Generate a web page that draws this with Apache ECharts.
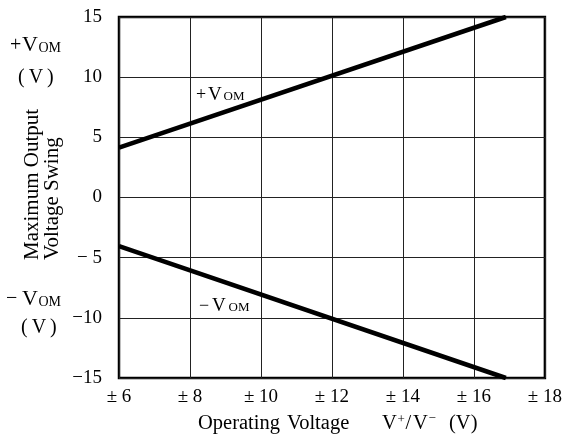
<!DOCTYPE html>
<html><head><meta charset="utf-8">
<script src="https://cdn.jsdelivr.net/npm/echarts@6/dist/echarts.min.js"></script>
<style>html,body{margin:0;padding:0;background:#fff}#c{width:565px;height:445px}</style>
</head><body><div id="c"></div>
<script>
const xTickValues = [6, 8, 10, 12, 14, 16, 18];
const xTickLabels = ['± 6', '± 8', '± 10', '± 12', '± 14', '± 16', '± 18'];
const yTickValues = [-15, -10, -5, 0, 5, 10, 15];
const yTickLabels = ['−15', '−10', '− 5', '0', '5', '10', '15'];
const plusVoltage = [6, 16.9];
const plusSwing = [4.15, 15];
const minusVoltage = [6, 16.9];
const minusSwing = [-4.05, -15];

const F = 'Liberation Serif';
function t(x, y, text, size, extra) {
  return Object.assign({
    type: 'text', x: x, y: y, silent: true,
    style: Object.assign({ text: text, fontFamily: F, fontSize: size, fill: '#000',
      textAlign: 'left', textVerticalAlign: 'middle', verticalAlign: 'middle' }, extra || {})
  });
}
const chart = echarts.init(document.getElementById('c'));
chart.setOption({
  animation: false,
  backgroundColor: '#fff',
  grid: { left: 119, right: 16, top: 17, bottom: 67, show: true, borderColor: '#000', borderWidth: 2.5, backgroundColor: 'transparent' },
  xAxis: {
    type: 'value', min: 6, max: 18, interval: 2,
    axisLine: { show: false }, axisTick: { show: false },
    splitLine: { show: true, lineStyle: { color: '#222', width: 1 } },
    axisLabel: { margin: 10, color: '#000', fontFamily: F, fontSize: 19,
      formatter: v => xTickLabels[xTickValues.indexOf(v)] }
  },
  yAxis: {
    type: 'value', min: -15, max: 15, interval: 5,
    axisLine: { show: false }, axisTick: { show: false },
    splitLine: { show: true, lineStyle: { color: '#222', width: 1 } },
    axisLabel: { margin: 17, color: '#000', fontFamily: F, fontSize: 19,
      formatter: v => yTickLabels[yTickValues.indexOf(v)] }
  },
  series: [
    { type: 'line', symbol: 'none', data: plusVoltage.map((v, i) => [v, plusSwing[i]]),
      lineStyle: { color: '#000', width: 4.5 } },
    { type: 'line', symbol: 'none', data: minusVoltage.map((v, i) => [v, minusSwing[i]]),
      lineStyle: { color: '#000', width: 4.5 } }
  ],
  graphic: [
    // left +VOM (V)
    t(10, 46, '+', 20), t(22, 45, 'V', 22), t(38.5, 48.5, 'OM', 14),
    t(18, 78, '(\u2009V\u2009)', 20),
    // left -VOM (V)
    t(6, 299, '−', 20), t(22, 299.5, 'V', 22), t(38.5, 302.5, 'OM', 14),
    t(21, 328, '(\u2009V\u2009)', 20),
    // y title
    { type: 'text', x: 42, y: 260, rotation: Math.PI / 2, silent: true,
      style: { text: 'Maximum Output\nVoltage Swing', fontFamily: F, fontSize: 21, lineHeight: 20,
        fill: '#000', textAlign: 'left', textVerticalAlign: 'middle', verticalAlign: 'middle' } },
    // in-plot labels
    t(196, 95, '+', 18), t(208, 95, 'V', 19), t(223.5, 96.5, 'OM', 13),
    t(199, 306, '−', 18), t(212, 306.5, 'V', 19), t(228.5, 308, 'OM', 13),
    // x title
    t(198, 423.5, 'Operating', 20.5), t(287, 423.5, 'Voltage', 20.5),
    t(382, 423.5, 'V', 20.5), t(397.5, 420, '+', 13), t(405.5, 423.5, '/', 20.5),
    t(413, 423.5, 'V', 20.5), t(428.5, 419, '−', 13), t(449, 423.5, '(V)', 20.5)
  ]
});
</script></body></html>
